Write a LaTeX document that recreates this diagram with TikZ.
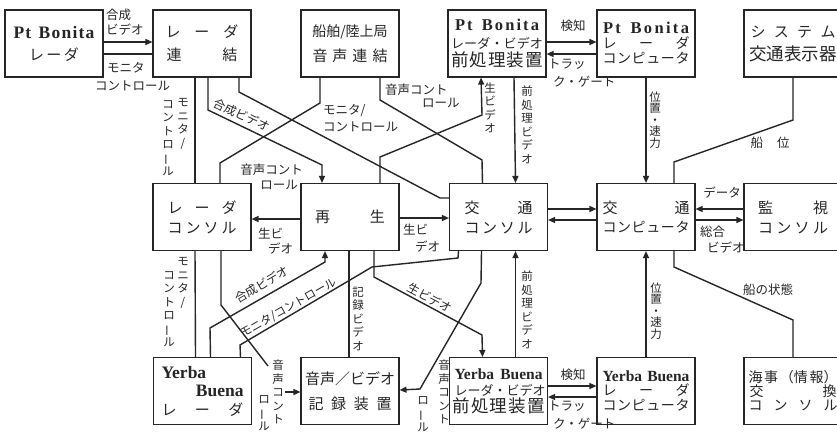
\documentclass[tikz,border=0pt]{standalone}
\usepackage{fontspec}
\usepackage{graphicx}
\setmainfont{Liberation Serif}
\newfontfamily\jp{Noto Sans CJK JP}
\newfontfamily\lat{Liberation Serif}
\usetikzlibrary{arrows.meta,calc}
\definecolor{ink}{gray}{0.15}
\newcommand\jl[2]{\hbox to #1pt{#2}}
\newcommand\vbr{\rotatebox[origin=c]{90}{ー}}
\newcommand\jfs[1]{\fontsize{#1}{20}\selectfont}
\newcommand\PB[2]{{\lat\bfseries\fontsize{#2}{20}\selectfont\hbox to #1pt{P\hskip 0pt plus 1fil t\hskip 5pt plus 2fil B\hskip 0pt plus 1fil o\hskip 0pt plus 1fil n\hskip 0pt plus 1fil i\hskip 0pt plus 1fil t\hskip 0pt plus 1fil a}}}
\newcommand\YB[2]{{\lat\bfseries\fontsize{#2}{20}\selectfont\hbox to #1pt{Yerba\hskip 4pt plus 1fil Buena}}}
\begin{document}
\begin{tikzpicture}[x=1pt,y=-1pt,
  every node/.style={text=ink},
  box/.style={draw=ink, line width=1.1pt, minimum width=98pt, minimum height=67pt, inner sep=0pt, align=center, font=\jp\fontsize{15}{20}\selectfont},
  wire/.style={draw=ink, line width=1.4pt},
  arr/.style={wire, -{Triangle[length=7pt,width=6pt]}},
  lab/.style={font=\jp\fontsize{12.5}{15}\selectfont, inner sep=0pt, align=left},
  labr/.style={font=\jp\fontsize{12.5}{15}\selectfont, inner sep=0pt, align=right},
  vlab/.style={font=\jp\fontsize{11.5}{13.5}\selectfont, inner sep=0pt, align=center},
  rlab/.style={font=\jp\fontsize{12}{14}\selectfont, inner sep=0pt}
]
\useasboundingbox (0,0) rectangle (837,432);
\fill[white] (0,0) rectangle (837,432);

% ---------- boxes, row 1
\node[box] (prb) at (54,43.5) {\PB{81}{17.5}\\[2pt]\jl{50}{レ\hfil ー\hfil ダ}};
\node[box] (rl) at (202,43.5) {\jl{73}{レ\hfil ー\hfil ダ}\\[3pt]\jl{71}{連\hfil 結}};
\node[box] (sv) at (350,43.5) {{\jfs{14}船舶/陸上局}\\[5pt]\jl{75}{音\hfil 声\hfil 連\hfil 結}};
\node[box] (ppb) at (497,43.5) {\PB{84}{16.5}\\[-2.5pt]{\jfs{13}\jl{92}{レ\hfil ー\hfil ダ\hfil ・\hfil ビ\hfil デ\hfil オ}}\\[-2pt]{\jfs{17.5}\jl{92}{前\hfil 処\hfil 理\hfil 装\hfil 置}}};
\node[box] (cpb) at (646,43.5) {\PB{86}{16.5}\\[-5pt]{\jfs{14}\jl{87}{レ\hfil ー\hfil ダ}}\\[-5pt]{\jfs{14}\jl{87}{コ\hfil ン\hfil ピ\hfil ュ\hfil ー\hfil タ}}};
\node[box] (sys) at (793,43.5) {\jl{85}{シ\hfil ス\hfil テ\hfil ム}\\[3pt]{\jfs{17.5}交通表示器}};

% ---------- boxes, row 2
\node[box] (rc) at (202,217) {\jl{69}{レ\hfil ー\hfil ダ}\\\jl{69}{コ\hfil ン\hfil ソ\hfil ル}};
\node[box] (pb) at (350,217) {\jl{70}{再\hfil 生}};
\node[box] (tc) at (498.5,217) {\jl{68}{交\hfil 通}\\\jl{68}{コ\hfil ン\hfil ソ\hfil ル}};
\node[box] (tcomp) at (646,217) {\jl{87}{交\hfil 通}\\[-1pt]{\jfs{14}\jl{87}{コ\hfil ン\hfil ピ\hfil ュ\hfil ー\hfil タ}}};
\node[box] (mon) at (793,217) {\jl{70}{監\hfil 視}\\\jl{70}{コ\hfil ン\hfil ソ\hfil ル}};

% ---------- boxes, row 3
\node[box] (yb) at (202.5,391) {\hbox to 82pt{{\lat\bfseries\fontsize{17.5}{20}\selectfont Yerba}\hfil}\\[-1.5pt]\hbox to 82pt{\hfil{\lat\bfseries\fontsize{17.5}{20}\selectfont Buena}}\\[-1.5pt]\jl{82}{レ\hfil ー\hfil ダ}};
\node[box] (rec) at (350,391) {\jl{90}{音\hfil 声\hfil ／\hfil ビ\hfil デ\hfil オ}\\[5pt]\jl{83}{記\hfil 録\hfil 装\hfil 置}};
\node[box] (pyb) at (498.5,391) {\YB{88}{15.5}\\[-3.5pt]{\jfs{13}\jl{88}{レ\hfil ー\hfil ダ\hfil ・\hfil ビ\hfil デ\hfil オ}}\\[-3.5pt]{\jfs{17.5}\jl{92}{前\hfil 処\hfil 理\hfil 装\hfil 置}}};
\node[box] (cyb) at (646,391) {\YB{87}{15.5}\\[-6pt]{\jfs{14}\jl{87}{レ\hfil ー\hfil ダ}}\\[-5pt]{\jfs{14}\jl{87}{コ\hfil ン\hfil ピ\hfil ュ\hfil ー\hfil タ}}};
\node[box] (mar) at (793,391) {{\jfs{14}\jl{89}{海\hfil 事\hfil （情\hfil 報）}}\\[-6pt]{\jfs{14}\jl{87}{交\hfil 換}}\\[-6pt]{\jfs{14}\jl{89}{コ\hfil ン\hfil ソ\hfil ル}}};

% ---------- connectors
\draw[arr] ($(prb.east)+(0,-1.5)$) -- ($(rl.west)+(0,-1.5)$);
\draw[wire] ($(prb.east)+(0,10.5)$) -- ($(rl.west)+(0,10.5)$);
\draw[wire] ($(rl.south)+(-7,0)$) -- ($(rc.north)+(-7,0)$);
\draw[arr] ($(rl.south)+(6,0)$) -- (208,110) -- (322,165) -- ($(pb.north)+(-28,0)$);
\draw[wire] ($(rl.south)+(37,0)$) -- (239,92) -- (440,198) -- ($(tc.west)+(0,-19)$);
\draw[wire] ($(sv.south)+(-30,0)$) -- (320,103) -- (220,163) -- ($(rc.north)+(18,0)$);
\draw[wire] ($(sv.south)+(30,0)$) -- (380,100) -- (482,160) -- ($(tc.north)+(-16,0)$);
\draw[arr] ($(pb.north)+(30,0)$) -- (380,157) -- (482,115) -- ($(ppb.south)+(-16,0)$);
\draw[arr] ($(ppb.south)+(17,0)$) -- ($(tc.north)+(17,0)$);
\draw[arr] ($(ppb.east)+(0,-1.5)$) -- ($(cpb.west)+(0,-1.5)$);
\draw[arr] ($(cpb.west)+(0,10.5)$) -- ($(ppb.east)+(0,10.5)$);
\draw[arr] (cpb.south) -- (tcomp.north);
\draw[wire] ($(tcomp.north)+(28,0)$) -- (674,162) -- (793,120) -- (sys.south);
\draw[arr] ($(tc.east)+(0,-8)$) -- ($(tcomp.west)+(0,-8)$);
\draw[arr] ($(tcomp.west)+(0,3)$) -- ($(tc.east)+(0,3)$);
\draw[arr] ($(mon.west)+(0,-8)$) -- ($(tcomp.east)+(0,-8)$);
\draw[arr] ($(tcomp.east)+(0,3)$) -- ($(mon.west)+(0,3)$);
\draw[wire] ($(tcomp.south)+(28,0)$) -- (674,267) -- (793,320) -- (mar.north);
\draw[arr] (cyb.north) -- (tcomp.south);
\draw[arr] ($(pyb.east)+(0,-5)$) -- ($(cyb.west)+(0,-5)$);
\draw[arr] ($(cyb.west)+(0,6)$) -- ($(pyb.east)+(0,6)$);
\draw[arr] ($(pyb.north)+(17,0)$) -- ($(tc.south)+(17,0)$);
\draw[arr] ($(pb.west)+(0,2)$) -- ($(rc.east)+(0,2)$);
\draw[arr] ($(pb.east)+(0,1)$) -- ($(tc.west)+(0,1)$);
\draw[wire] ($(yb.north)+(-7,0)$) -- ($(rc.south)+(-7,0)$);
\draw[arr] ($(yb.north)+(8,0)$) -- (210,328) -- (325,262) -- ($(pb.south)+(-25,0)$);
\draw[wire] ($(yb.north)+(38,0)$) -- (240,345) -- (372,267) -- (458,258) -- ($(tc.south)+(-40,0)$);
\draw[wire] ($(pb.south)+(-1,0)$) -- ($(rec.north)+(-1,0)$);
\draw[arr] ($(pb.south)+(24,0)$) -- (374,277) -- (482,335) -- ($(pyb.north)+(-16,0)$);
\coordinate (vlb) at (268,366);
\coordinate (vla) at (285,392);
\draw[wire] ($(rc.south)+(19,0)$) -- (221,305) -- (vlb);
\draw[arr] (vla) -- (rec.west |- vla);
\draw[arr] ($(tc.south)+(-17,0)$) -- (481,283) -- (420,389) -- ($(rec.east)+(0,-1)$);

% ---------- labels
\node[lab, anchor=north west] (lA1) at (106,9) {合成\\ビデオ};
\node[lab, anchor=north west] (lA2) at (95,62) {\hspace*{12pt}モニタ\\[3pt]コントロール};
\node[vlab] (lBr) at (183,124) {モ\\ニ\\タ\\/};
\node[vlab] (lBl) at (168,138) {コ\\ン\\ト\\ロ\\\vbr\\ル};
\node[rlab, rotate=-25.8] (lC) at (242,115) {合成ビデオ};
\node[lab, anchor=north west] (lD) at (323,104) {モニタ/\\[2pt]コントロール};
\node[labr, anchor=north east] (lE) at (303,164) {音声コント\\ロール\hspace*{5pt}};
\node[lab, anchor=north west] (lF) at (385,84) {音声コント\\[-2pt]\hspace*{37pt}ロール};
\node[vlab] (lG) at (490,108) {生\\ビ\\デ\\オ};
\node[vlab] (lH) at (527,125) {前\\処\\理\\ビ\\デ\\オ};
\node[lab] (lI1) at (573,26) {検知};
\node[lab, anchor=north west] (lI2) at (548,59) {トラッ\\[3pt]\hspace*{5pt}ク・ゲート};
\node[vlab] (lJ) at (655,120) {位\\[-2pt]置\\[-2pt]・\\[-2pt]速\\[-2pt]力};
\node[lab] (lK) at (770,143) {船\hspace{14pt}位};
\node[lab, anchor=north west] (lR1) at (258,228) {生ビ\\\hspace*{10pt}デオ};
\node[lab, anchor=north west] (lR2) at (403,224) {生ビ\\[2pt]\hspace*{12pt}デオ};
\node[lab] (lM1) at (722,193) {データ};
\node[lab, anchor=north west] (lM2) at (700,226) {総合\\[1pt]\hspace*{7pt}ビデオ};
\node[lab] (lN) at (768,290) {船の状態};
\node[vlab] (lO) at (656,311) {位\\[-2pt]置\\[-2pt]・\\[-2pt]速\\[-2pt]力};
\node[vlab] (lQ) at (527,310) {前\\処\\理\\ビ\\デ\\オ};
\node[vlab] (lB2r) at (183,283) {モ\\ニ\\タ\\/};
\node[vlab] (lB2l) at (169,309) {コ\\ン\\ト\\ロ\\\vbr\\ル};
\node[rlab, rotate=30] (lYC) at (262,285) {合成ビデオ};
\node[rlab, rotate=29.5, font=\jp\fontsize{11.5}{14}\selectfont] (lYM) at (289,308) {モニタ/コントロール};
\node[vlab] (lRec) at (358,319) {記\\録\\ビ\\デ\\オ};
\node[rlab, rotate=-28.2] (lRV) at (430,298) {生ビデオ};
\node[vlab] (lVLr) at (278,392) {音\\声\\コ\\ン\\ト};
\node[vlab] (lVLl) at (264,413) {ロ\\\vbr\\ル};
\node[vlab] (lVRr) at (444,392) {音\\声\\コ\\ン\\ト};
\node[vlab] (lVRl) at (423,414) {ロ\\\vbr\\ル};
\node[lab] (lP1) at (573,375) {検知};
\node[lab, anchor=north west] (lP2) at (548,401) {トラッ\\[3pt]\hspace*{5pt}ク・ゲート};
\end{tikzpicture}
\end{document}
